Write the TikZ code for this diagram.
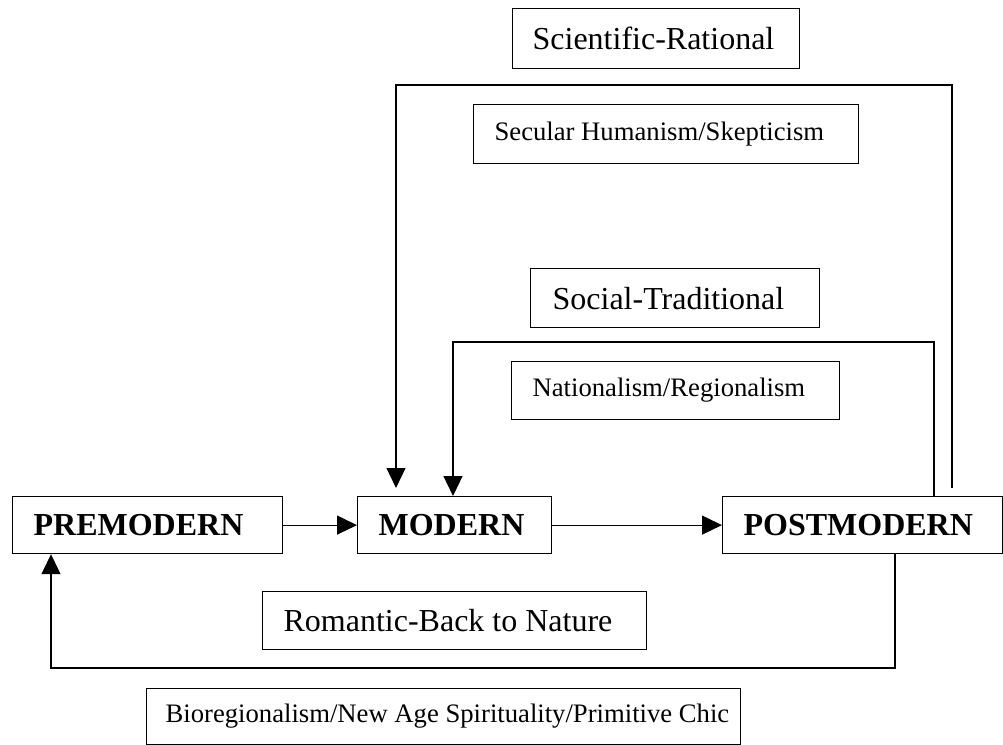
\documentclass[tikz,border=0pt]{standalone}
\usepackage{fontspec}
\setmainfont{Liberation Serif}
\usetikzlibrary{arrows.meta}
\newlength\pxu
\setlength\pxu{0.75pt}
\newcommand\padtext[3]{\makebox[#1\pxu][l]{\hspace*{#2\pxu}#3}}
\begin{document}
\begin{tikzpicture}[x=0.75pt,y=-0.75pt,
  box/.style={draw=black,line width=0.9pt,inner sep=0pt,anchor=north west,rectangle},
  big/.style={font=\fontsize{24}{28}\selectfont},
  small/.style={font=\fontsize{20}{24}\selectfont},
  era/.style={font=\fontsize{24}{28}\selectfont\bfseries},
  arr/.style={line width=0.9pt,-{Triangle[width=14.25pt,length=15pt]}}]
\useasboundingbox (0,0) rectangle (1003,745);

\node[box,big,minimum height=45pt] (sci) at (512,8) {\padtext{287}{20}{Scientific-Rational}};
\node[box,small,minimum height=44.25pt] (sec) at (473,104) {\padtext{385}{21}{Secular Humanism/Skepticism}};
\node[box,big,minimum height=44.25pt] (soc) at (530,268) {\padtext{289}{22}{Social-Traditional}};
\node[box,small,minimum height=43.5pt] (nat) at (511,361) {\padtext{328}{21}{Nationalism/Regionalism}};

\node[box,era,minimum height=42.75pt] (pre) at (12,496) {\padtext{270}{21}{PREMODERN}};
\node[box,era,minimum height=42.75pt] (mod) at (357,496) {\padtext{194}{21}{MODERN}};
\node[box,era,minimum height=42.75pt] (post) at (722,496) {\padtext{280}{21}{POSTMODERN}};

\node[box,big,minimum height=43.5pt] (rom) at (262,591) {\padtext{384}{21}{Romantic-Back to Nature}};
\node[box,small,minimum height=42pt] (bio) at (146,688) {\padtext{594}{19}{Bioregionalism/New Age Spirituality/Primitive Chic}};

\draw[arr] (pre.east) -- (mod.west);
\draw[arr] (mod.east) -- (post.west);

\coordinate (sciA) at (952,488);
\coordinate (sciB) at (396,85);
\draw[arr,shorten >=6pt] (sciA) |- (sciB) -- (sciB |- mod.north);

\coordinate (socB) at (453,342);
\draw[arr] (post.north west) ++(212,0) |- (socB) -- (socB |- mod.north);

\coordinate (retB) at (51,668);
\draw[arr] (post.south west) ++(173,0) |- (retB) -- (retB |- pre.south);
\end{tikzpicture}
\end{document}
